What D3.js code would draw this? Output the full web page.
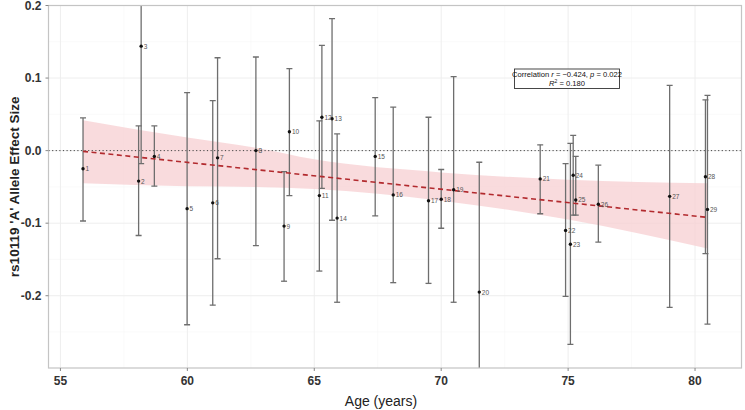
<!DOCTYPE html>
<html><head><meta charset="utf-8">
<script src="https://cdn.jsdelivr.net/npm/d3@7"></script>
<style>
body{margin:0;background:#fff;}
svg{display:block;font-family:"Liberation Sans",Arial,sans-serif;}
</style></head>
<body>
<svg id="chart" width="745" height="410"></svg>
<script>
// ---- data ----
const ids   = [1,2,3,4,5,6,7,8,9,10,11,12,13,14,15,16,17,18,19,20,21,22,23,24,25,26,27,28,29];
const ages  = [55.89,58.08,58.18,58.70,59.99,61.00,61.19,62.70,63.81,64.02,65.20,65.30,65.70,65.90,67.40,68.11,69.50,70.00,70.49,71.50,73.90,74.90,75.09,75.20,75.30,76.19,79.00,80.41,80.49];
const effects = [-0.025,-0.042,0.144,-0.008,-0.080,-0.072,-0.010,0.000,-0.104,0.026,-0.062,0.046,0.044,-0.093,-0.008,-0.061,-0.069,-0.067,-0.054,-0.195,-0.039,-0.110,-0.129,-0.034,-0.068,-0.074,-0.063,-0.036,-0.081];
const lowers  = [-0.097,-0.117,-0.018,-0.049,-0.240,-0.213,-0.149,-0.131,-0.180,-0.062,-0.166,-0.052,-0.096,-0.209,-0.090,-0.182,-0.183,-0.107,-0.209,-0.374,-0.087,-0.201,-0.267,-0.089,-0.089,-0.126,-0.216,-0.142,-0.239];
const uppers  = [0.045,0.034,0.306,0.034,0.080,0.069,0.128,0.129,-0.029,0.113,0.041,0.145,0.182,0.023,0.073,0.060,0.046,-0.026,0.102,-0.016,0.008,-0.018,0.010,0.021,-0.008,-0.020,0.090,0.070,0.076];
const fitAges = [55.89, 80.49];
const fitVals = [-0.001, -0.092];
const bandAges  = [55.89, 60, 62.7, 65, 70, 75, 80.49];
const bandUpper = [0.042, 0.018, 0.004, -0.012, -0.030, -0.040, -0.045];
const bandLower = [-0.045, -0.049, -0.050, -0.053, -0.069, -0.095, -0.135];
const xTicks = [55, 60, 65, 70, 75, 80];
const yTicks = [0.2, 0.1, 0.0, -0.1, -0.2];
const yTickLabels = ["0.2", "0.1", "0.0", "-0.1", "-0.2"];
const xMinor = [57.5, 62.5, 67.5, 72.5, 77.5];
const yMinor = [0.15, 0.05, -0.05, -0.15, -0.25];

// ---- layout ----
const svg = d3.select("#chart");
const L = 48.5, R = 741.5, T = 5.5, B = 368;
const x = d3.scaleLinear().domain([54.53, 81.83]).range([L, R]);
const y = d3.scaleLinear().domain([-0.2996, 0.2]).range([B, T]);

svg.append("defs").append("clipPath").attr("id","clip")
  .append("rect").attr("x",L).attr("y",T).attr("width",R-L).attr("height",B-T);

// grid
const grid = svg.append("g");
grid.selectAll(".xm").data(xMinor).join("line")
  .attr("x1",d=>x(d)).attr("x2",d=>x(d)).attr("y1",T).attr("y2",B)
  .attr("stroke","#f6f6f6").attr("stroke-width",0.6);
grid.selectAll(".ym").data(yMinor).join("line")
  .attr("y1",d=>y(d)).attr("y2",d=>y(d)).attr("x1",L).attr("x2",R)
  .attr("stroke","#f6f6f6").attr("stroke-width",0.6);
grid.selectAll(".xg").data(xTicks).join("line")
  .attr("x1",d=>x(d)).attr("x2",d=>x(d)).attr("y1",T).attr("y2",B)
  .attr("stroke","#eeeeee").attr("stroke-width",1);
grid.selectAll(".yg").data(yTicks).join("line")
  .attr("y1",d=>y(d)).attr("y2",d=>y(d)).attr("x1",L).attr("x2",R)
  .attr("stroke","#eeeeee").attr("stroke-width",1);

const plot = svg.append("g").attr("clip-path","url(#clip)");

// confidence band
const band = bandAges.map((a,i)=>({a, lo:bandLower[i], hi:bandUpper[i]}));
plot.append("path").datum(band)
  .attr("d", d3.area().curve(d3.curveMonotoneX).x(d=>x(d.a)).y0(d=>y(d.lo)).y1(d=>y(d.hi)))
  .attr("fill","#f7cfd2").attr("fill-opacity",0.75);

// zero line
plot.append("line").attr("x1",L).attr("x2",R).attr("y1",y(0)).attr("y2",y(0))
  .attr("stroke","#444").attr("stroke-width",1).attr("stroke-dasharray","1.2,2.4");

// error bars
const data = ids.map((id,i)=>({id, a:ages[i], v:effects[i], lo:lowers[i], hi:uppers[i]}));
const eb = plot.append("g").attr("stroke","#6e6e6e").attr("stroke-width",1.3);
eb.selectAll(".v").data(data).join("line")
  .attr("x1",d=>x(d.a)).attr("x2",d=>x(d.a)).attr("y1",d=>y(d.lo)).attr("y2",d=>y(d.hi));
eb.selectAll(".cl").data(data).join("line")
  .attr("x1",d=>x(d.a)-3).attr("x2",d=>x(d.a)+3).attr("y1",d=>y(d.lo)).attr("y2",d=>y(d.lo));
eb.selectAll(".ch").data(data).join("line")
  .attr("x1",d=>x(d.a)-3).attr("x2",d=>x(d.a)+3).attr("y1",d=>y(d.hi)).attr("y2",d=>y(d.hi));

// fit line
plot.append("path").datum(fitAges.map((a,i)=>({a, v:fitVals[i]})))
  .attr("d", d3.line().x(d=>x(d.a)).y(d=>y(d.v)))
  .attr("stroke","#b22a2e").attr("stroke-width",1.6).attr("fill","none")
  .attr("stroke-dasharray","5,3.5");

// points
plot.selectAll("circle").data(data).join("circle")
  .attr("cx",d=>x(d.a)).attr("cy",d=>y(d.v)).attr("r",1.7).attr("fill","#111");
plot.selectAll(".lbl").data(data).join("text")
  .attr("x",d=>x(d.a)+2.5).attr("y",d=>y(d.v)+2.5)
  .attr("font-size","6.5px").attr("fill","#555").text(d=>d.id);

// panel border
svg.append("rect").attr("x",L).attr("y",T).attr("width",R-L).attr("height",B-T)
  .attr("fill","none").attr("stroke","#c4c4c4").attr("stroke-width",1.2);

// x ticks
svg.selectAll(".xt").data(xTicks).join("line")
  .attr("x1",d=>x(d)).attr("x2",d=>x(d)).attr("y1",B).attr("y2",B+3)
  .attr("stroke","#888").attr("stroke-width",1);
svg.selectAll(".xl").data(xTicks).join("text")
  .attr("x",d=>x(d)).attr("y",B+17).attr("text-anchor","middle")
  .attr("font-size","12px").attr("font-weight","bold").attr("fill","#333").text(d=>d);
// y ticks
svg.selectAll(".yt").data(yTicks).join("line")
  .attr("x1",L-3).attr("x2",L).attr("y1",d=>y(d)).attr("y2",d=>y(d))
  .attr("stroke","#888").attr("stroke-width",1);
svg.selectAll(".yl").data(yTicks).join("text")
  .attr("x",L-7).attr("y",d=>y(d)+4).attr("text-anchor","end")
  .attr("font-size","12px").attr("font-weight","bold").attr("fill","#333")
  .text((d,i)=>yTickLabels[i]);

// axis titles
svg.append("text").attr("x",(L+R)/2 - 14).attr("y",406).attr("text-anchor","middle")
  .attr("font-size","14px").attr("fill","#222").text("Age (years)");
svg.append("text").attr("transform",`translate(19,${(T+B)/2}) rotate(-90)`)
  .attr("text-anchor","middle").attr("font-size","13.5px").attr("font-weight","bold")
  .attr("fill","#222").text("rs10119 'A' Allele Effect Size");

// annotation
const ann = svg.append("g");
ann.append("rect").attr("x",514.5).attr("y",69).attr("width",105).attr("height",19.5)
  .attr("fill","#fff").attr("stroke","#333").attr("stroke-width",0.9);
const t1 = ann.append("text").attr("x",567).attr("y",77).attr("text-anchor","middle")
  .attr("font-size","7.6px").attr("fill","#111");
t1.append("tspan").text("Correlation ");
t1.append("tspan").attr("font-style","italic").text("r");
t1.append("tspan").text(" = \u22120.424, ");
t1.append("tspan").attr("font-style","italic").text("p");
t1.append("tspan").text(" = 0.022");
const t2 = ann.append("text").attr("x",567).attr("y",86).attr("text-anchor","middle")
  .attr("font-size","7.6px").attr("fill","#111");
t2.append("tspan").attr("font-style","italic").text("R");
t2.append("tspan").attr("font-size","5px").attr("dy","-3").text("2");
t2.append("tspan").attr("dy","3").text(" = 0.180");
</script>
</body></html>
